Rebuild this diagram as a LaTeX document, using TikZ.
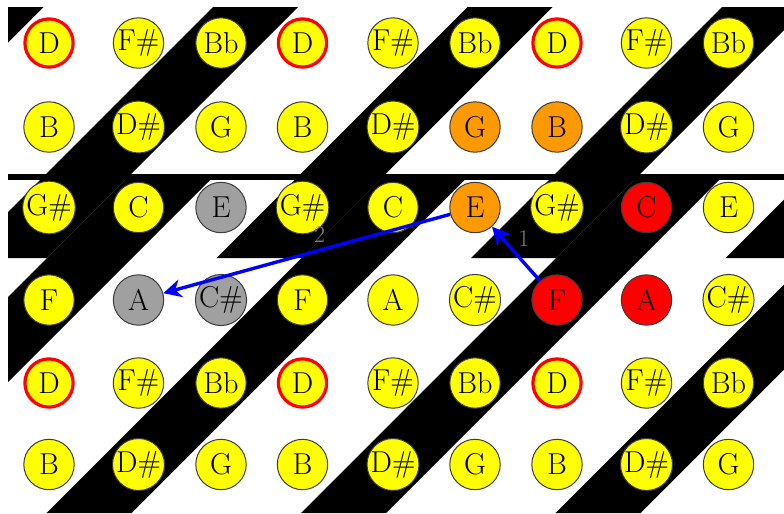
\documentclass[tikz,border=0pt]{standalone}
\usepackage{tikz}
\usetikzlibrary{arrows.meta,calc,positioning}

\definecolor{keyyellow}{RGB}{255,255,0}
\definecolor{keyorange}{RGB}{255,153,0}
\definecolor{keygrey}{RGB}{160,160,160}
\definecolor{keyred}{RGB}{255,0,0}
\definecolor{pathblue}{RGB}{0,0,255}
\definecolor{rim}{RGB}{60,60,60}
\definecolor{lblgrey}{RGB}{128,128,128}

\begin{document}
\begin{tikzpicture}[x=0.25mm, y=-0.25mm,
		key/.style={circle, draw=rim, line width=0.25mm, fill=keyyellow, minimum size=12.6mm, inner sep=0pt, font=\fontsize{21.5}{26}\selectfont},
		root/.style={draw=keyred, line width=0.8mm, minimum size=12.05mm},
		played/.style={fill=keyorange},
		target/.style={fill=keyred},
		blocked/.style={fill=keygrey},
		move/.style={draw=pathblue, line width=0.85mm, -{Stealth[length=4.5mm, width=4.5mm, inset=1.4mm]}},
		steplbl/.style={text=lblgrey, font=\fontsize{17}{19}\selectfont, inner sep=1pt},
		n11/.style={root}, n14/.style={root}, n17/.style={root},
		n51/.style={root}, n54/.style={root}, n57/.style={root},
		n26/.style={played}, n27/.style={played}, n36/.style={played},
		n38/.style={target}, n47/.style={target}, n48/.style={target},
		n33/.style={blocked}, n42/.style={blocked}, n43/.style={blocked}]
		\useasboundingbox (0,0) rectangle (784,513);
		\begin{scope}
			\clip (8,7) rectangle (784,258);
			\foreach \c in {-34.5,220,474.5,729,983.5}
				\fill (\c-7,7) -- (\c+85-7,7) -- (\c+85-258,258) -- (\c-258,258) -- cycle;
		\end{scope}
		\begin{scope}
			\clip (8,180) rectangle (784,513);
			\foreach \c in {50.5,305,559.5,814,1068.5}
				\fill (\c-180,180) -- (\c+85-180,180) -- (\c+85-513,513) -- (\c-513,513) -- cycle;
		\end{scope}
		\fill (8,174) rectangle (784,180);
		\foreach \yy/\na/\nb/\nc [count=\r] in {43/D/F\#/Bb, 127/B/D\#/G, 207.5/G\#/C/E, 300/F/A/C\#, 383/D/F\#/Bb, 464.5/B/D\#/G}
			\foreach \xx [count=\c] in {49,138.5,221,302.5,393,475,557,646.5,728.5} {
				\pgfmathtruncatemacro\k{mod(\c-1,3)}
				\node[key, n\r\c/.try] (n\r\c) at (\xx,\yy) {\ifcase\k\relax\na\or\nb\or\nc\fi};
			}
		\draw[move] (n47) -- (n36) node[steplbl, pos=0.6, xshift=9pt, yshift=7pt] {1};
		\draw[move] (n36) -- (n42) node[steplbl, pos=0.455, above=3pt] {2};
	\end{tikzpicture}
\end{document}
